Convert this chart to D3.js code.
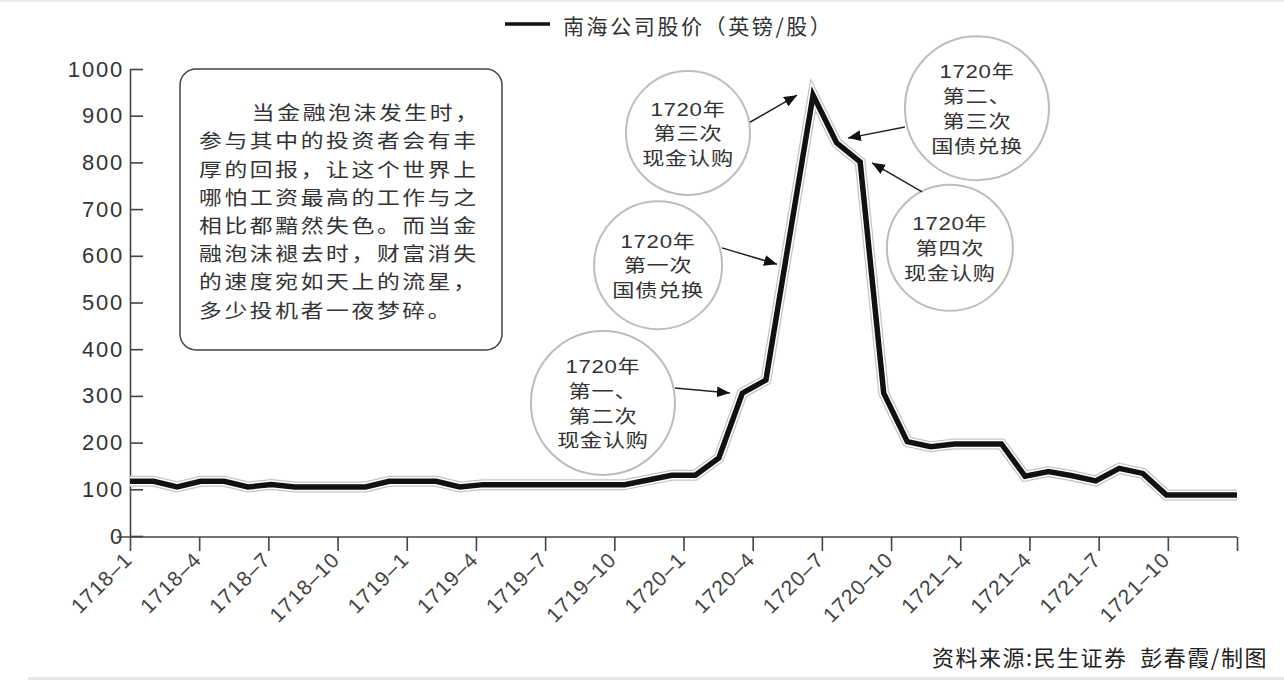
<!DOCTYPE html>
<html>
<head>
<meta charset="utf-8">
<script src="https://cdn.jsdelivr.net/npm/d3@7"></script>
<style>
  body { margin: 0; background: #fff; }
  svg { display: block; font-family: "Liberation Sans", Arial, "Noto Sans CJK SC", sans-serif; }
</style>
</head>
<body>
<script>
const w = 1284;
const h = 682;

// data
const years = [1718, 1719, 1720, 1721];
const months = years.flatMap(y => d3.range(1, 13).map(m => y + '-' + m));
const price = [
  117, 117, 105, 117, 117, 105, 110, 105, 105, 105, 105, 117,
  117, 117, 105, 110, 110, 110, 110, 110, 110, 110, 120, 130,
  130, 167, 306, 334, 640, 944, 842, 801, 306, 202, 191, 197,
  197, 197, 128, 138, 129, 118, 145, 134, 88, 88, 88, 88
];
const tickLabels = ['1718–1', '1718–4', '1718–7', '1718–10', '1719–1', '1719–4', '1719–7', '1719–10',
  '1720–1', '1720–4', '1720–7', '1720–10', '1721–1', '1721–4', '1721–7', '1721–10', ''];
const yTicks = [0, 100, 200, 300, 400, 500, 600, 700, 800, 900, 1000];
const legendText = '南海公司股价（英镑/股）';
const boxLines = ['当金融泡沫发生时，', '参与其中的投资者会有丰', '厚的回报，让这个世界上', '哪怕工资最高的工作与之',
  '相比都黯然失色。而当金', '融泡沫褪去时，财富消失', '的速度宛如天上的流星，', '多少投机者一夜梦碎。'];
const source = '资料来源:民生证券  彭春霞/制图';

// annotation bubbles, placed in data units (month index, price)
const notes = [
  { lines: ['1720年', '第一、', '第二次', '现金认购'], c: [20.08, 285], r: 72, from: [23.14, 317], to: [25.47, 306] },
  { lines: ['1720年', '第一次', '国债兑换'], c: [22.42, 580], r: 64, from: [25.13, 617], to: [27.47, 582] },
  { lines: ['1720年', '第三次', '现金认购'], c: [23.69, 863], r: 62, from: [26.32, 886], to: [28.32, 944] },
  { lines: ['1720年', '第二、', '第三次', '国债兑换'], c: [35.96, 916], r: 72, from: [32.9, 876], to: [30.48, 852] },
  { lines: ['1720年', '第四次', '现金认购'], c: [34.81, 617], r: 63, from: [33.63, 737], to: [31.5, 799] }
];

const svg = d3.select('body')
  .append('svg')
  .attr('width', w)
  .attr('height', h);

const x = d3.scalePoint().domain(months).range([130, 1237]);
const xi = d3.scaleLinear().domain([0, months.length - 1]).range([130, 1237]);
const xTick = d3.scalePoint().domain(tickLabels).range([130, 1237]);
const y = d3.scaleLinear().domain([0, 1000]).range([536, 69]);

// thin rules at top and bottom of the picture
svg.append('rect').attr('x', 0).attr('y', 0).attr('width', w).attr('height', 2).attr('fill', '#ececec');
svg.append('rect').attr('x', 28).attr('y', 677).attr('width', w - 28).attr('height', 3).attr('fill', '#e6e6e6');

// legend
svg.append('line')
  .attr('x1', 505).attr('x2', 550).attr('y1', 24).attr('y2', 24)
  .attr('stroke', '#111').attr('stroke-width', 3.5);
svg.append('text')
  .attr('x', 563).attr('y', 25)
  .attr('dominant-baseline', 'central')
  .attr('font-size', 21).attr('letter-spacing', 2.6).attr('fill', '#333')
  .attr('font-family', '"Noto Sans CJK SC", sans-serif')
  .text(legendText);

// y axis
const yAxis = d3.axisLeft(y).tickValues(yTicks).tickFormat(d3.format('d'))
  .tickSize(-13).tickSizeOuter(0).tickPadding(6);
const gy = svg.append('g')
  .attr('transform', 'translate(130, 0)')
  .call(yAxis);
gy.selectAll('text').attr('font-size', 22).attr('fill', '#333').attr('letter-spacing', 1.8);
gy.selectAll('line, path').attr('stroke', '#444').attr('stroke-width', 1.6);

// x axis
const xAxis = d3.axisBottom(xTick).tickSize(14).tickSizeOuter(0);
const gx = svg.append('g')
  .attr('transform', 'translate(0, 537)')
  .call(xAxis);
gx.select('.domain').remove();
gx.append('line')
  .attr('x1', xTick.range()[0] - 13).attr('x2', xTick.range()[1])
  .attr('stroke', '#444').attr('stroke-width', 1.6);
gx.selectAll('line').attr('stroke', '#444').attr('stroke-width', 1.6);
gx.selectAll('text')
  .attr('font-size', 21).attr('letter-spacing', 1).attr('fill', '#444')
  .attr('text-anchor', 'end')
  .attr('y', 0).attr('dy', 0)
  .attr('transform', 'translate(3, 24) rotate(-45)');

// text box
svg.append('rect')
  .attr('x', 180).attr('y', 69).attr('width', 322).attr('height', 281).attr('rx', 16)
  .attr('fill', 'none').attr('stroke', '#444').attr('stroke-width', 1.5);
svg.append('g')
  .attr('transform', 'translate(199, 0) scale(1.2, 1)')
  .selectAll('text')
  .data(boxLines)
  .enter()
  .append('text')
  .attr('x', (d, i) => i === 0 ? 44 : 0)
  .attr('y', (d, i) => 112 + i * 28.2)
  .attr('dominant-baseline', 'central')
  .attr('font-size', 19).attr('letter-spacing', 2.2).attr('fill', '#333')
  .attr('font-family', '"Noto Sans CJK SC", sans-serif')
  .text(d => d);

// price line with halo
const line = d3.line()
  .x((d, i) => x(months[i]))
  .y(d => y(d));
const lineG = svg.append('g');
[['#c4c4c4', 11], ['#fff', 8.5], ['#111', 5.5]].forEach(s => {
  lineG.append('path')
    .datum(price)
    .attr('d', line)
    .attr('fill', 'none')
    .attr('stroke', s[0])
    .attr('stroke-width', s[1])
    .attr('stroke-linejoin', 'miter');
});

// arrow marker
svg.append('defs').append('marker')
  .attr('id', 'arr')
  .attr('viewBox', '0 0 12 10')
  .attr('refX', 12).attr('refY', 5)
  .attr('markerWidth', 13).attr('markerHeight', 11)
  .attr('markerUnits', 'userSpaceOnUse')
  .attr('orient', 'auto')
  .append('path')
  .attr('d', 'M0,0 L12,5 L0,10 z')
  .attr('fill', '#111');

// annotation bubbles
const ng = svg.append('g')
  .selectAll('g')
  .data(notes)
  .enter()
  .append('g');
ng.append('circle')
  .attr('cx', d => xi(d.c[0])).attr('cy', d => y(d.c[1])).attr('r', d => d.r)
  .attr('fill', '#fff').attr('stroke', '#bdbdbd').attr('stroke-width', 2);
ng.append('line')
  .attr('x1', d => xi(d.from[0])).attr('y1', d => y(d.from[1]))
  .attr('x2', d => xi(d.to[0])).attr('y2', d => y(d.to[1]))
  .attr('stroke', '#222').attr('stroke-width', 1.5)
  .attr('marker-end', 'url(#arr)');
ng.each(function (d) {
  const n = d.lines.length;
  d3.select(this).selectAll('text')
    .data(d.lines)
    .enter()
    .append('text')
    .attr('transform', (t, k) => 'translate(' + xi(d.c[0]) + ',' +
      (y(d.c[1]) + (k - (n - 1) / 2) * 24.8 + 1) + ') scale(1.2, 1)')
    .attr('text-anchor', 'middle')
    .attr('dominant-baseline', 'central')
    .attr('font-size', 18.5).attr('letter-spacing', 0.6).attr('fill', '#333')
    .text(t => t);
});

// source note
svg.append('text')
  .attr('x', 1268).attr('y', 656)
  .attr('text-anchor', 'end')
  .attr('dominant-baseline', 'central')
  .attr('font-size', 22).attr('letter-spacing', 1.5).attr('fill', '#222')
  .style('white-space', 'pre')
  .attr('font-family', '"Noto Sans CJK SC", sans-serif')
  .text(source);
</script>
</body>
</html>
